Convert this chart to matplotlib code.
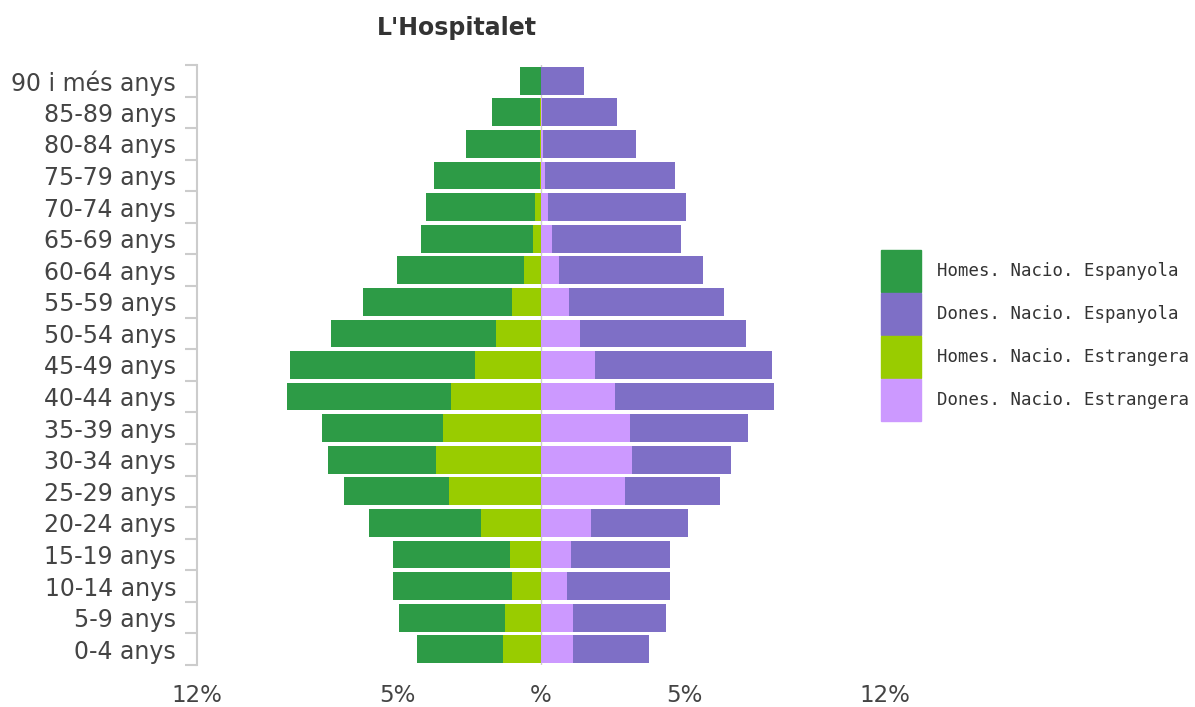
import matplotlib.pyplot as plt
from matplotlib.patches import Patch

# age groups, bottom to top
ages = ['0-4 anys', '5-9 anys', '10-14 anys', '15-19 anys', '20-24 anys',
        '25-29 anys', '30-34 anys', '35-39 anys', '40-44 anys', '45-49 anys',
        '50-54 anys', '55-59 anys', '60-64 anys', '65-69 anys', '70-74 anys',
        '75-79 anys', '80-84 anys', '85-89 anys', '90 i més anys']

# % of population
homes_esp = [2.99, 3.68, 4.14, 4.07, 3.91, 3.68, 3.76, 4.22, 5.73, 6.46,
             5.77, 5.19, 4.44, 3.91, 3.83, 3.68, 2.56, 1.69, 0.73]
homes_estr = [1.34, 1.26, 1.03, 1.10, 2.08, 3.21, 3.66, 3.43, 3.13, 2.31,
              1.57, 1.03, 0.58, 0.28, 0.20, 0.05, 0.05, 0.02, 0.01]
dones_esp = [2.63, 3.23, 3.60, 3.45, 3.39, 3.31, 3.45, 4.13, 5.56, 6.17,
             5.79, 5.42, 5.04, 4.51, 4.81, 4.52, 3.25, 2.62, 1.50]
dones_estr = [1.13, 1.13, 0.91, 1.06, 1.74, 2.94, 3.17, 3.09, 2.57, 1.89,
              1.36, 0.98, 0.61, 0.39, 0.23, 0.15, 0.07, 0.02, 0.01]

xticks = [-12, -5, 0, 5, 12]
xtick_labels = ['12%', '5%', '%', '5%', '12%']

c_h_esp = '#2d9b46'
c_d_esp = '#7e6fc6'
c_h_estr = '#99cc00'
c_d_estr = '#cc99ff'

fig = plt.figure(figsize=(11.95, 7.07), dpi=100)
ax = fig.add_axes([0.1649, 0.0594, 0.5757, 0.8487])

y = list(range(len(ages)))
h = 0.88
ax.axvline(0, color='#cccccc', lw=1, zorder=0)
ax.barh(y, [-v for v in homes_estr], height=h, color=c_h_estr, zorder=2)
ax.barh(y, [-v for v in homes_esp], left=[-v for v in homes_estr], height=h, color=c_h_esp, zorder=2)
ax.barh(y, dones_estr, height=h, color=c_d_estr, zorder=2)
ax.barh(y, dones_esp, left=dones_estr, height=h, color=c_d_esp, zorder=2)

ax.set_xlim(-12, 12)
ax.set_ylim(-0.5, len(ages) - 0.5)

ax.set_xticks(xticks)
ax.set_xticklabels(xtick_labels)
ax.tick_params(axis='x', length=0, pad=14, labelsize=16.5, labelcolor='#444444')

# boundary ticks on the axis, labels in the middle of each bar
ax.set_yticks([i - 0.5 for i in range(len(ages) + 1)])
ax.set_yticklabels([])
ax.tick_params(axis='y', which='major', length=9, width=1.5, color='#cccccc')
ax.set_yticks(y, minor=True)
ax.set_yticklabels(ages, minor=True)
ax.tick_params(axis='y', which='minor', length=0, pad=15, labelsize=17, labelcolor='#444444')

for s in ['top', 'right', 'bottom']:
    ax.spines[s].set_visible(False)
ax.spines['left'].set_color('#cccccc')
ax.spines['left'].set_linewidth(1.5)

fig.text(457 / 1195, 1 - 28 / 707, "L'Hospitalet", ha='center', va='center',
         fontsize=17, fontweight='bold', color='#333333')

handles = [Patch(color=c_h_esp), Patch(color=c_d_esp), Patch(color=c_h_estr), Patch(color=c_d_estr)]
labels = ['Homes. Nacio. Espanyola', 'Dones. Nacio. Espanyola',
          'Homes. Nacio. Estrangera', 'Dones. Nacio. Estrangera']
fig.legend(handles, labels, loc='upper left', bbox_to_anchor=(881 / 1195, 1 - 250 / 707),
           frameon=False, borderpad=0, borderaxespad=0, handlelength=2.3, handleheight=3.35,
           labelspacing=0.06, handletextpad=0.95,
           prop={'family': 'DejaVu Sans Mono', 'size': 12.5})
for t in fig.legends[0].get_texts():
    t.set_color('#333333')

fig.savefig('out.png', dpi=100)
